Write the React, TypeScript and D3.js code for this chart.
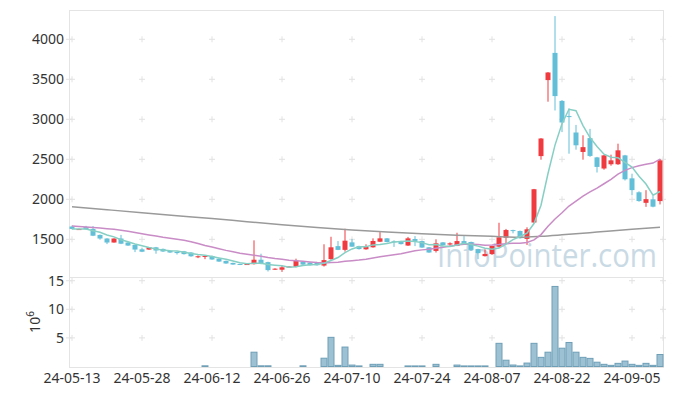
import * as d3 from "d3";

// trading days, 24-05-13 .. 24-09-11
const dates = [
  "24-05-13", "24-05-14", "24-05-16", "24-05-17", "24-05-20", "24-05-21", "24-05-22", "24-05-23", "24-05-24", "24-05-27",
  "24-05-28", "24-05-29", "24-05-30", "24-05-31", "24-06-03", "24-06-04", "24-06-05", "24-06-07", "24-06-10", "24-06-11",
  "24-06-12", "24-06-13", "24-06-14", "24-06-17", "24-06-18", "24-06-19", "24-06-20", "24-06-21", "24-06-24", "24-06-25",
  "24-06-26", "24-06-27", "24-06-28", "24-07-01", "24-07-02", "24-07-03", "24-07-04", "24-07-05", "24-07-08", "24-07-09",
  "24-07-10", "24-07-11", "24-07-12", "24-07-15", "24-07-16", "24-07-17", "24-07-18", "24-07-19", "24-07-22", "24-07-23",
  "24-07-24", "24-07-25", "24-07-26", "24-07-29", "24-07-30", "24-07-31", "24-08-01", "24-08-02", "24-08-05", "24-08-06",
  "24-08-07", "24-08-08", "24-08-09", "24-08-12", "24-08-13", "24-08-14", "24-08-16", "24-08-19", "24-08-20", "24-08-21",
  "24-08-22", "24-08-23", "24-08-26", "24-08-27", "24-08-28", "24-08-29", "24-08-30", "24-09-02", "24-09-03", "24-09-04",
  "24-09-05", "24-09-06", "24-09-09", "24-09-10", "24-09-11",
];

const opens = [
  1660, 1620, 1655, 1630, 1555, 1510, 1460, 1510, 1460, 1430,
  1375, 1372, 1400, 1380, 1358, 1342, 1350, 1335, 1280, 1280,
  1292, 1258, 1230, 1205, 1192, 1183, 1190, 1245, 1215, 1123,
  1120, 1152, 1155, 1221, 1209, 1213, 1172, 1252, 1415, 1368,
  1462, 1415, 1375, 1400, 1470, 1512, 1475, 1478, 1422, 1504,
  1478, 1400, 1355, 1462, 1435, 1418, 1478, 1466, 1378, 1290,
  1315, 1408, 1520, 1615, 1604, 1505, 1710, 2540, 3490, 3830,
  3230, 3040, 2835, 2592, 2765, 2524, 2385, 2438, 2438, 2549,
  2262, 2088, 1956, 2000, 1978,
];
const highs = [
  1672, 1632, 1668, 1665, 1560, 1515, 1512, 1555, 1465, 1432,
  1395, 1402, 1405, 1385, 1362, 1345, 1355, 1340, 1298, 1295,
  1296, 1262, 1234, 1208, 1194, 1200, 1487, 1320, 1220, 1138,
  1171, 1162, 1258, 1226, 1214, 1218, 1438, 1532, 1478, 1632,
  1505, 1420, 1438, 1512, 1590, 1516, 1488, 1482, 1530, 1540,
  1482, 1404, 1500, 1466, 1462, 1582, 1540, 1470, 1382, 1375,
  1420, 1707, 1630, 1620, 1610, 1650, 2130, 2765, 3590, 4290,
  3240, 3135, 2930, 2800, 2880, 2530, 2555, 2558, 2695, 2555,
  2320, 2100, 2114, 2040, 2505,
];
const lows = [
  1625, 1618, 1622, 1540, 1495, 1440, 1458, 1440, 1418, 1340,
  1340, 1368, 1320, 1342, 1330, 1310, 1310, 1282, 1265, 1252,
  1244, 1218, 1194, 1182, 1178, 1180, 1185, 1188, 1098, 1118,
  1093, 1148, 1150, 1180, 1172, 1172, 1160, 1245, 1365, 1346,
  1405, 1372, 1370, 1396, 1466, 1462, 1405, 1436, 1418, 1415,
  1393, 1330, 1335, 1422, 1420, 1415, 1429, 1354, 1252, 1285,
  1305, 1400, 1450, 1575, 1508, 1430, 1700, 2495, 3220, 3110,
  2840, 2570, 2620, 2495, 2530, 2335, 2370, 2420, 2430, 2235,
  2050, 1970, 1906, 1900, 1936,
];
const closes = [
  1630, 1628, 1626, 1545, 1510, 1460, 1510, 1445, 1422, 1372,
  1345, 1400, 1360, 1348, 1335, 1328, 1315, 1288, 1288, 1292,
  1248, 1222, 1198, 1185, 1181, 1191, 1245, 1198, 1115, 1133,
  1150, 1160, 1234, 1184, 1176, 1176, 1240, 1400, 1368, 1483,
  1408, 1378, 1404, 1479, 1512, 1466, 1464, 1440, 1512, 1480,
  1397, 1335, 1450, 1426, 1450, 1478, 1452, 1368, 1327, 1317,
  1417, 1525, 1616, 1605, 1514, 1625, 2126, 2760, 3585, 3290,
  2960, 3030, 2675, 2652, 2542, 2405, 2549, 2487, 2612, 2250,
  2115, 1978, 2002, 1908, 2487,
];
// volume, millions of shares
const volumes = [
  0, 0, 0, 0, 0, 0, 0, 0, 0, 0,
  0, 0, 0, 0, 0, 0, 0, 0, 0, 0.12,
  0, 0, 0, 0, 0, 0, 2.5, 0.12, 0.12, 0,
  0, 0, 0, 0.12, 0, 0, 1.45, 5.1, 0.2, 3.4,
  0.25, 0.1, 0, 0.38, 0.38, 0, 0, 0, 0.1, 0.1,
  0.1, 0, 0.38, 0, 0, 0.25, 0.1, 0.1, 0.1, 0.1,
  0, 4.05, 1.1, 0.26, 0.1, 0.6, 4.05, 1.6, 2.5, 14.0,
  3.2, 4.2, 2.5, 1.6, 1.42, 0.75, 0.38, 0.2, 0.55, 0.95,
  0.38, 0.2, 0.55, 0.2, 2.1,
];

// 20-day average before a full window is visible
const ma20Lead = [
  1665, 1660, 1655, 1648, 1640, 1633, 1625, 1613, 1600, 1586,
  1570, 1555, 1540, 1525, 1512, 1500, 1488, 1470, 1448,
];
// long moving average, read at these day indices
const longMaIdx = [0, 5, 10, 15, 20, 25, 30, 35, 40, 45, 50, 55, 60, 64, 67, 70, 75, 80, 84];
const longMaVal = [1908, 1870, 1832, 1795, 1760, 1720, 1682, 1648, 1617, 1592, 1570, 1552, 1537, 1527, 1538, 1556, 1590, 1625, 1650];

const priceTicks = [1500, 2000, 2500, 3000, 3500, 4000];
const volTicks = [5, 10, 15];
const xTickEvery = 10;

const RED = "#ef3a40";
const BLUE = "#63bfd7";
const FONT = "'Noto Sans', sans-serif";

export default function App() {
  const left = 69, right = 663, top = 10, mid = 277, bottom = 367;

  const x = d3.scaleBand<string>().domain(dates).range([68.5, 663.5]);
  const bw = x.bandwidth();
  const cx = (i: number) => (x(dates[i]) as number) + bw / 2;
  const y = d3.scaleLinear().domain([1029, 4366]).range([mid, top]);
  const yv = d3.scaleLinear().domain([0, 15.65]).range([366.5, mid]);

  const ma5 = closes.map((_, i) => d3.mean(closes.slice(Math.max(0, i - 4), i + 1)) as number);
  const ma20 = closes.map((_, i) => (i < 19 ? ma20Lead[i] : (d3.mean(closes.slice(i - 19, i + 1)) as number)));

  const line = d3.line<number>().x((_, i) => cx(i)).y((v) => y(v));
  const longLine = d3
    .line<number>()
    .x((_, k) => cx(longMaIdx[k]))
    .y((v) => y(v))
    .curve(d3.curveMonotoneX);

  const xTicks = dates.map((d, i) => i).filter((i) => i % xTickEvery === 0);
  const crossXs = [...xTicks.map(cx), right];
  const crossYs = [...priceTicks.map((p) => y(p)), ...volTicks.map((v) => yv(v))];

  return (
    <svg width={673} height={396} style={{ position: "absolute", left: 0, top: 0 }} fontFamily={FONT}>
      <rect width={673} height={396} fill="#fff" />
      {/* frame */}
      <g stroke="#e4e4e4" strokeWidth={1} fill="none">
        <rect x={left + 0.5} y={top + 0.5} width={right - left} height={bottom - top} />
        <line x1={left} x2={right} y1={mid + 0.5} y2={mid + 0.5} />
      </g>
      {/* grid crosses */}
      <g stroke="#e2e2e2" strokeWidth={1}>
        {crossXs.map((gx) =>
          crossYs.map((gy) => (
            <g key={gx + "-" + gy}>
              <line x1={gx - 3} x2={gx + 3} y1={gy} y2={gy} />
              <line x1={gx} x2={gx} y1={gy - 3} y2={gy + 3} />
            </g>
          ))
        )}
        {crossYs.map((gy) => (
          <g key={"l" + gy}>
            <line x1={left - 3} x2={left + 3} y1={gy} y2={gy} />
            <line x1={left + 0.5} x2={left + 0.5} y1={gy - 3} y2={gy + 3} />
          </g>
        ))}
      </g>

      {/* watermark */}
      <text x={437} y={267} fontSize={33} fill="#c9dae5" textLength={220} lengthAdjust="spacingAndGlyphs" fontFamily="'Open Sans', sans-serif">
        InfoPointer.com
      </text>

      {/* volume */}
      <g fill="#9cc1d3" stroke="#6e9fb7" strokeWidth={1}>
        {volumes.map((v, i) =>
          v > 0 ? (
            <rect key={i} x={(x(dates[i]) as number) + 0.5} width={bw - 1} y={yv(v)} height={yv(0) - yv(v)} />
          ) : null
        )}
      </g>

      {/* candles */}
      {dates.map((d, i) => {
        const up = closes[i] >= opens[i];
        const c = up ? RED : BLUE;
        const yt = y(Math.max(opens[i], closes[i]));
        const yb = y(Math.min(opens[i], closes[i]));
        return (
          <g key={d}>
            <line x1={cx(i)} x2={cx(i)} y1={y(highs[i])} y2={y(lows[i])} stroke={c} strokeWidth={1} />
            <rect x={cx(i) - 2.5} width={5} y={yt} height={Math.max(1, yb - yt)} fill={c} />
          </g>
        );
      })}

      {/* moving averages */}
      <path d={longLine(longMaVal) || ""} fill="none" stroke="#9a9a9a" strokeWidth={1.5} />
      <path d={line(ma20) || ""} fill="none" stroke="#c98cc6" strokeWidth={1.5} />
      <path d={line(ma5) || ""} fill="none" stroke="#86cfc4" strokeWidth={1.5} />

      {/* axis labels */}
      <g fontSize={14} fill="#333" textAnchor="end">
        {priceTicks.map((p) => (
          <text key={p} x={64} y={y(p)} dy="0.35em">
            {p}
          </text>
        ))}
        {volTicks.map((v) => (
          <text key={v} x={64} y={yv(v)} dy="0.35em">
            {v}
          </text>
        ))}
      </g>
      <text transform="translate(40,322) rotate(-90)" fontSize={14} fill="#333" textAnchor="middle">
        10<tspan dy={-6} fontSize={10}>6</tspan>
      </text>
      <g fontSize={14} fill="#333" textAnchor="middle">
        {xTicks.map((i) => (
          <text key={i} x={cx(i)} y={383}>
            {dates[i]}
          </text>
        ))}
      </g>
    </svg>
  );
}
